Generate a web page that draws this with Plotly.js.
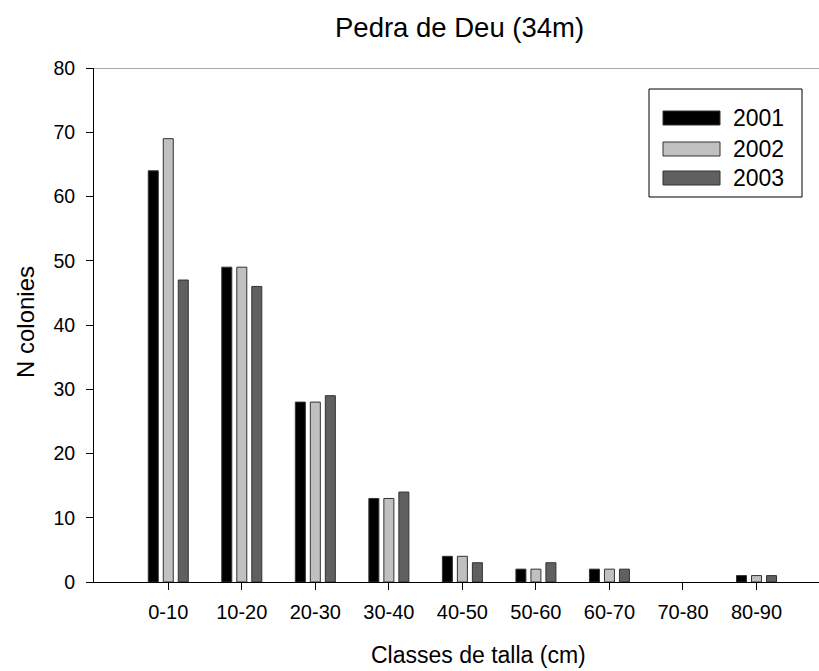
<!DOCTYPE html>
<html>
<head>
<meta charset="utf-8">
<script src="https://cdn.plot.ly/plotly-3.0.1.min.js"></script>
<style>html,body{margin:0;padding:0;background:#fff;}#chart{width:819px;height:671px;}</style>
</head>
<body>
<div id="chart"></div>
<script>
const categories = ["0-10","10-20","20-30","30-40","40-50","50-60","60-70","70-80","80-90"];
const seriesNames = ["2001","2002","2003"];
const values2001 = [64, 49, 28, 13, 4, 2, 2, 0, 1];
const values2002 = [69, 49, 28, 13, 4, 2, 2, 0, 1];
const values2003 = [47, 46, 29, 14, 3, 3, 2, 0, 1];
const seriesColors = ["#000000", "#c0c0c0", "#606060"];
const yTicks = [0,10,20,30,40,50,60,70,80];

const allValues = [values2001, values2002, values2003];
const font = "Liberation Sans, Arial, sans-serif";

const traces = allValues.map((v, i) => ({
  type: "bar",
  name: seriesNames[i],
  x: categories,
  y: v,
  marker: {color: seriesColors[i], line: {color: "#333333", width: v.map(d => d === 0 ? 0 : 1)}},
  showlegend: false
}));

// plot area in pixels: x 94..819, y 68..582
const px = x => (x - 94) / 725;
const py = y => (582 - y) / 514;

const shapes = [
  {type: "line", xref: "paper", yref: "y", x0: 0, x1: 1, y0: 80, y1: 80, line: {color: "#555555", width: 1}},
  {type: "rect", xref: "paper", yref: "paper", x0: px(649), x1: px(802), y0: py(197), y1: py(89), line: {color: "#000", width: 1}, fillcolor: "rgba(0,0,0,0)"}
];
const annotations = [
  {xref: "paper", yref: "paper", x: px(459), y: py(27), xanchor: "center", yanchor: "middle", showarrow: false,
   text: "Pedra de Deu (34m)", font: {family: font, size: 27.5, color: "#000"}},
  {xref: "paper", yref: "paper", x: px(479), y: py(655), xanchor: "center", yanchor: "middle", showarrow: false,
   text: "Classes de talla (cm)", font: {family: font, size: 23, color: "#000"}},
  {xref: "paper", yref: "paper", x: px(25), y: py(322), xanchor: "center", yanchor: "middle", showarrow: false, textangle: -90,
   text: "N colonies", font: {family: font, size: 24, color: "#000"}}
];
const rowY = [118, 149, 178];
seriesNames.forEach((n, i) => {
  const yc = rowY[i];
  shapes.push({type: "rect", xref: "paper", yref: "paper",
    x0: px(663), x1: px(720), y0: py(yc + 7), y1: py(yc - 7),
    fillcolor: seriesColors[i], line: {color: "#333333", width: 1}});
  annotations.push({xref: "paper", yref: "paper", x: px(731), y: py(yc),
    xanchor: "left", yanchor: "middle", showarrow: false, text: n,
    font: {family: font, size: 23, color: "#000"}});
});

const layout = {
  width: 819, height: 671,
  margin: {l: 94, r: 0, t: 68, b: 89, pad: 0},
  paper_bgcolor: "#fff", plot_bgcolor: "#fff",
  font: {family: font, color: "#000"},
  barmode: "group",
  bargap: 0.388,
  bargroupgap: 0.333,
  xaxis: {
    type: "category",
    range: [-1.01, 8.85],
    showline: true, linecolor: "#000", linewidth: 1,
    ticks: "outside", ticklen: 7, tickcolor: "#000", tickwidth: 1,
    showgrid: false, zeroline: false,
    tickfont: {family: font, size: 20, color: "#000"},
    ticklabelstandoff: 5
  },
  yaxis: {
    range: [0, 80],
    tickvals: yTicks,
    showline: true, linecolor: "#000", linewidth: 1,
    ticks: "outside", ticklen: 7, tickcolor: "#000", tickwidth: 1,
    showgrid: false, zeroline: false,
    tickfont: {family: font, size: 19.5, color: "#000"},
    ticklabelstandoff: 7
  },
  shapes: shapes,
  annotations: annotations
};

Plotly.newPlot("chart", traces, layout, {displayModeBar: false, staticPlot: true});
</script>
</body>
</html>
